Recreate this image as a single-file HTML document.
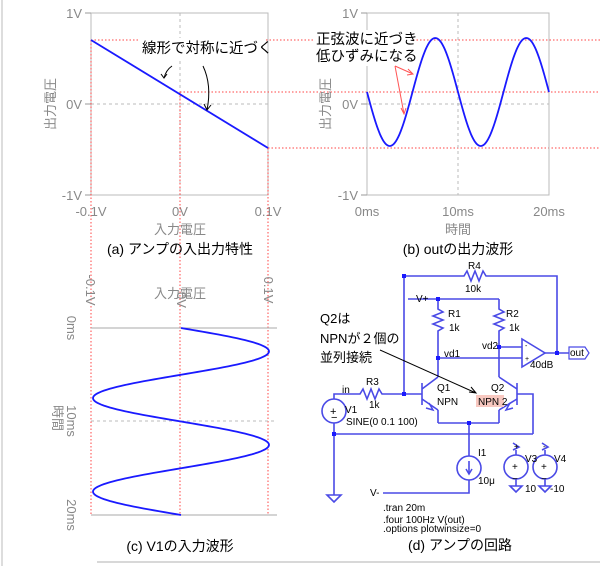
<!DOCTYPE html>
<html><head><meta charset="utf-8"><style>
html,body{margin:0;padding:0;background:#fff}
svg{display:block}
text{font-family:"Liberation Sans","Noto Sans CJK JP",sans-serif}
.g{fill:#888;font-size:13px}
.c{fill:#000;font-size:10px}
.w{stroke:#4a4ae6;stroke-width:1.6;fill:none}
</style></head><body>
<svg id="s" width="600" height="566" viewBox="0 0 600 566" xmlns="http://www.w3.org/2000/svg">
<line x1="2" y1="0" x2="2" y2="566" stroke="#ddd" stroke-width="2"/>
<line x1="97" y1="562" x2="600" y2="562" stroke="#ccc" stroke-width="1.5"/>
<!-- plot a -->
<rect x="91" y="13" width="177" height="182" fill="none" stroke="#bbb"/>
<line x1="91" y1="104" x2="268" y2="104" stroke="#bbb" stroke-dasharray="3,3"/>
<line x1="180" y1="13" x2="180" y2="195" stroke="#bbb" stroke-dasharray="3,3"/>
<g stroke="#999"><line x1="85" y1="13" x2="91" y2="13"/><line x1="85" y1="104" x2="91" y2="104"/><line x1="85" y1="195" x2="91" y2="195"/></g>
<text class="g" x="82" y="18" text-anchor="end">1V</text>
<text class="g" x="82" y="109" text-anchor="end">0V</text>
<text class="g" x="82" y="200" text-anchor="end">-1V</text>
<text class="g" x="91" y="216" text-anchor="middle">-0.1V</text>
<text class="g" x="180" y="216" text-anchor="middle">0V</text>
<text class="g" x="268" y="216" text-anchor="middle">0.1V</text>
<text class="g" x="180" y="234" text-anchor="middle">入力電圧</text>
<text class="g" transform="translate(55,104) rotate(-90)" text-anchor="middle">出力電圧</text>
<g stroke="#f44" stroke-dasharray="1.5,2" stroke-width="1">
<line x1="91" y1="40" x2="600" y2="40"/><line x1="180" y1="92" x2="600" y2="92"/><line x1="268" y1="148" x2="600" y2="148"/>
<line x1="91" y1="40" x2="91" y2="515"/><line x1="180" y1="92" x2="180" y2="515"/><line x1="268" y1="148" x2="268" y2="515"/>
</g>
<line x1="91" y1="40" x2="268" y2="148" stroke="#1a1aff" stroke-width="1.8"/>
<rect x="140" y="38" width="126" height="20" fill="#fff"/>
<text x="142" y="53" font-size="14.5" fill="#000">線形で対称に近づく</text>
<path d="M172,66 Q166,70 164,78 M161,74 L164,78 L167,74" stroke="#000" fill="none"/>
<path d="M203,66 Q212,85 207,110 M204,104 L207,110 L211,105" stroke="#000" fill="none"/>
<text x="180" y="254" font-size="14" fill="#000" text-anchor="middle">(a) アンプの入出力特性</text>
<!-- plot b -->
<rect x="367" y="13" width="182" height="182" fill="none" stroke="#bbb"/>
<line x1="367" y1="104" x2="549" y2="104" stroke="#bbb" stroke-dasharray="3,3"/>
<line x1="458" y1="13" x2="458" y2="195" stroke="#bbb" stroke-dasharray="3,3"/>
<g stroke="#999"><line x1="361" y1="13" x2="367" y2="13"/><line x1="361" y1="104" x2="367" y2="104"/><line x1="361" y1="195" x2="367" y2="195"/></g>
<text class="g" x="358" y="18" text-anchor="end">1V</text>
<text class="g" x="358" y="109" text-anchor="end">0V</text>
<text class="g" x="358" y="200" text-anchor="end">-1V</text>
<text class="g" x="367" y="216" text-anchor="middle">0ms</text>
<text class="g" x="458" y="216" text-anchor="middle">10ms</text>
<text class="g" x="549" y="216" text-anchor="middle">20ms</text>
<text class="g" x="458" y="234" text-anchor="middle">時間</text>
<text class="g" transform="translate(330,104) rotate(-90)" text-anchor="middle">出力電圧</text>
<path id="pb" stroke="#1a1aff" stroke-width="1.8" fill="none"/>
<rect x="314" y="30" width="100" height="36" fill="#fff"/>
<text x="316" y="44" font-size="14.5" fill="#000">正弦波に近づき</text>
<text x="316" y="61" font-size="14.5" fill="#000">低ひずみになる</text>
<path d="M395,66 L413,74 M408,69 L413,74 L407,75 M395,66 L404,114 M401,108 L404,114 L406,108" stroke="#f55" fill="none"/>
<text x="458" y="254" font-size="14" fill="#000" text-anchor="middle">(b) outの出力波形</text>
<!-- plot c -->
<line x1="91" y1="328" x2="277" y2="328" stroke="#aaa"/>
<line x1="91" y1="515" x2="277" y2="515" stroke="#aaa"/>
<line x1="91" y1="421" x2="277" y2="421" stroke="#bbb" stroke-dasharray="3,3"/>
<text class="g" transform="translate(86,290) rotate(90)" text-anchor="middle">-0.1V</text>
<text class="g" transform="translate(177,300) rotate(90)" text-anchor="middle">0V</text>
<text class="g" transform="translate(264,290) rotate(90)" text-anchor="middle">0.1V</text>
<text class="g" x="180" y="298" text-anchor="middle">入力電圧</text>
<text class="g" transform="translate(67,328) rotate(90)" text-anchor="middle">0ms</text>
<text class="g" transform="translate(67,421) rotate(90)" text-anchor="middle">10ms</text>
<text class="g" transform="translate(67,515) rotate(90)" text-anchor="middle">20ms</text>
<text class="g" transform="translate(53,418) rotate(90)" text-anchor="middle">時間</text>
<path id="pc" stroke="#1a1aff" stroke-width="1.8" fill="none"/>
<text x="180" y="551" font-size="14" fill="#000" text-anchor="middle">(c) V1の入力波形</text>
<!-- circuit -->
<g class="w">
<polyline points="404,394 404,276 464,276 467,271 471,281 475,271 479,281 483,271 486,276 557,276 557,353"/>
<line x1="408" y1="299" x2="499" y2="299"/>
<polyline points="438,299 438,309 443,312 433,316 443,320 433,324 443,328 438,331 438,377"/>
<polyline points="499,299 499,309 504,312 494,316 504,320 494,324 504,328 499,331 499,377"/>
<line x1="499" y1="347" x2="522" y2="347"/>
<line x1="438" y1="358" x2="522" y2="358"/>
<polygon points="522,339 522,367 545,353"/>
<line x1="545" y1="353" x2="569" y2="353"/>
<polygon points="569,347 585,347 589,353 585,359 569,359" stroke-width="1.2"/>
<line x1="422" y1="383" x2="422" y2="405"/><line x1="404" y1="394" x2="422" y2="394"/>
<line x1="422" y1="389" x2="438" y2="377"/><line x1="422" y1="399" x2="438" y2="410"/><line x1="438" y1="410" x2="438" y2="423"/>
<line x1="517" y1="383" x2="517" y2="405"/>
<line x1="517" y1="389" x2="499" y2="377"/><line x1="517" y1="399" x2="499" y2="410"/><line x1="499" y1="410" x2="499" y2="423"/>
<polyline points="517,394 533,394 533,434"/>
<line x1="438" y1="423" x2="499" y2="423"/>
<line x1="469" y1="423" x2="469" y2="456"/>
<polyline points="334,399 334,394 360,394 363,389 367,399 371,389 375,399 379,389 382,394 404,394"/>
<circle cx="334" cy="411" r="12"/>
<polyline points="334,423 334,495"/>
<line x1="334" y1="434" x2="533" y2="434"/>
<polygon points="327,495 341,495 334,502"/>
<circle cx="469" cy="468" r="12"/>
<polyline points="469,480 469,493 383,493"/>
<line x1="469" y1="461" x2="469" y2="474"/>
<circle cx="516" cy="467" r="12"/><circle cx="545" cy="467" r="12"/>
<line x1="516" y1="455" x2="516" y2="450"/><line x1="545" y1="455" x2="545" y2="450"/>
<polyline points="513,443 519,447 513,450"/><polyline points="542,443 548,447 542,450"/>
<line x1="516" y1="479" x2="516" y2="486"/><line x1="545" y1="479" x2="545" y2="486"/>
<polygon points="510,486 522,486 516,492"/><polygon points="539,486 551,486 545,492"/>
</g>
<g fill="#4a4ae6" stroke="#4a4ae6" stroke-width="1.5">
<polyline points="429,403 433,410 426,408" fill="none"/>
<polyline points="510,403 506,410 513,408" fill="none"/>
<polyline points="466,469 469,474 472,469" fill="none"/>
</g>
<g fill="#1a1aff">
<rect x="402" y="274" width="4" height="4"/><rect x="555" y="351" width="4" height="4"/><rect x="436" y="297" width="4" height="4"/>
<rect x="497" y="345" width="4" height="4"/><rect x="436" y="356" width="4" height="4"/><rect x="402" y="392" width="4" height="4"/>
<rect x="467" y="421" width="4" height="4"/><rect x="332" y="432" width="4" height="4"/>
</g>
<g font-size="10" fill="#000" font-family="Liberation Sans">
<text x="330" y="415" font-size="11">+</text><text x="331" y="421" font-size="11">−</text>
<text x="512" y="470">+</text><text x="541" y="470">+</text><text x="512" y="482">−</text><text x="541" y="482">−</text>
<text x="525" y="348" font-size="7">-</text><text x="525" y="361" font-size="7">+</text>
</g>
<g class="c">
<text x="468" y="269" style="font-size:10px">R4</text><text x="465" y="292" style="font-size:10px">10k</text>
<text x="416" y="302" style="font-size:10px">V+</text>
<text x="448" y="317">R1</text><text x="449" y="331">1k</text>
<text x="506" y="317">R2</text><text x="509" y="331">1k</text>
<text x="444" y="357">vd1</text><text x="482" y="349">vd2</text>
<text x="530" y="368">40dB</text><text x="570" y="356">out</text>
<text x="437" y="391">Q1</text><text x="437" y="405">NPN</text>
<text x="491" y="391">Q2</text>
<rect x="476" y="395" width="28" height="12" fill="#f8c8c0"/>
<text x="478" y="405">NPN 2</text>
<text x="342" y="393">in</text><text x="366" y="385">R3</text><text x="369" y="408">1k</text>
<text x="345" y="413">V1</text><text x="346" y="425">SINE(0 0.1 100)</text>
<text x="478" y="456">I1</text><text x="478" y="484">10μ</text>
<text x="370" y="496">V-</text>
<text x="525" y="462">V3</text><text x="554" y="462">V4</text>
<text x="525" y="492">10</text><text x="550" y="492">-10</text>
<text x="383" y="511">.tran 20m</text><text x="383" y="523">.four 100Hz V(out)</text><text x="383" y="532">.options plotwinsize=0</text>
</g>
<text x="514" y="449" font-size="8">+</text><text x="543" y="449" font-size="8">-</text>
<text x="320" y="323" font-size="13">Q2は</text>
<text x="320" y="343" font-size="13">NPNが２個の</text>
<text x="320" y="362" font-size="13">並列接続</text>
<path d="M380,350 L476,393 M469,392 L476,393 L471,387" stroke="#000" fill="none"/>
<text x="460" y="550" font-size="14" fill="#000" text-anchor="middle">(d) アンプの回路</text>
</svg>
<script>
var b="",c="";
for(var i=0;i<=200;i++){var t=i/10;
b+=(i?"L":"M")+(367+t*9.1).toFixed(2)+","+(92+54*Math.sin(2*Math.PI*t/10)).toFixed(2);
c+=(i?"L":"M")+(181+88*Math.sin(2*Math.PI*t/10)).toFixed(2)+","+(328+t*9.35).toFixed(2);}
document.getElementById("pb").setAttribute("d",b);
document.getElementById("pc").setAttribute("d",c);
</script>
</body></html>
